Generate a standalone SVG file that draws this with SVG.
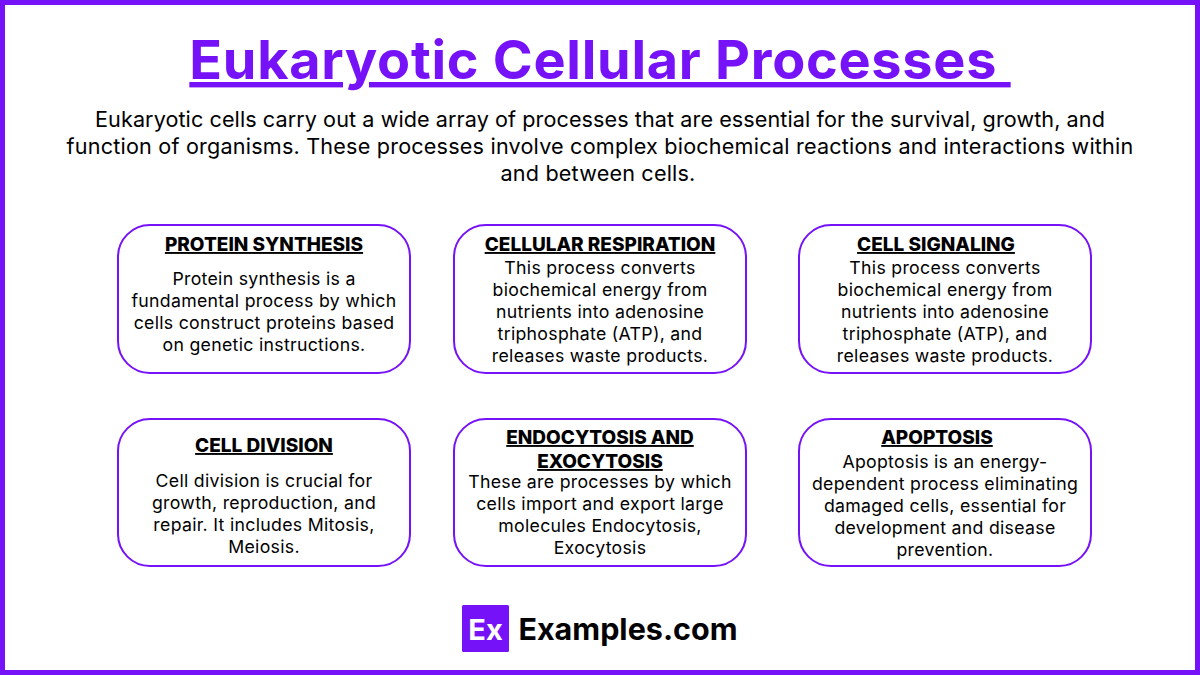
<svg xmlns="http://www.w3.org/2000/svg" width="1200" height="675" viewBox="0 0 1200 675">
<style>
text{font-family:"Inter","Liberation Sans",sans-serif;text-anchor:middle;fill:#000}
.intro{font-size:21.6px;letter-spacing:.18px}
.h{font-size:19px;font-weight:800;text-decoration:underline}
.b{font-size:17.7px;letter-spacing:.3px}
.card{fill:#fff;stroke:#7612f8;stroke-width:2}
</style>
<rect x="2.5" y="2.5" width="1195" height="670" fill="#fff" stroke="#7612f8" stroke-width="5"/>
<g id="title"><text x="600" y="79" xml:space="preserve" style="font-size:54px;font-weight:700;fill:#7612f8;text-decoration:underline;letter-spacing:.72px">Eukaryotic Cellular Processes </text></g>
<g id="intro" class="intro">
<text x="600" y="127" style="letter-spacing:.08px">Eukaryotic cells carry out a wide array of processes that are essential for the survival, growth, and</text>
<text x="600" y="154" style="letter-spacing:.2px">function of organisms. These processes involve complex biochemical reactions and interactions within</text>
<text x="598" y="181">and between cells.</text>
</g>
<g id="node-protein-synthesis"><rect class="card" x="118" y="225" width="292" height="148" rx="32"/>
<text class="h" x="264" y="251">PROTEIN SYNTHESIS</text>
<text class="b" x="264" y="285">Protein synthesis is a</text><text class="b" x="264" y="307">fundamental process by which</text><text class="b" x="264" y="329">cells construct proteins based</text><text class="b" x="264" y="351">on genetic instructions.</text></g>
<g id="node-cellular-respiration"><rect class="card" x="454" y="225" width="292" height="148" rx="32"/>
<text class="h" x="600" y="251">CELLULAR RESPIRATION</text>
<text class="b" x="600" y="274">This process converts</text><text class="b" x="600" y="296">biochemical energy from</text><text class="b" x="600" y="318">nutrients into adenosine</text><text class="b" x="600" y="340">triphosphate (ATP), and</text><text class="b" x="600" y="362">releases waste products.</text></g>
<g id="node-cell-signaling"><rect class="card" x="799" y="225" width="292" height="148" rx="32"/>
<text class="h" x="936" y="251">CELL SIGNALING</text>
<text class="b" x="945" y="274">This process converts</text><text class="b" x="945" y="296">biochemical energy from</text><text class="b" x="945" y="318">nutrients into adenosine</text><text class="b" x="945" y="340">triphosphate (ATP), and</text><text class="b" x="945" y="362">releases waste products.</text></g>
<g id="node-cell-division"><rect class="card" x="118" y="419" width="292" height="147" rx="32"/>
<text class="h" x="264" y="452">CELL DIVISION</text>
<text class="b" x="264" y="487">Cell division is crucial for</text><text class="b" x="264" y="509">growth, reproduction, and</text><text class="b" x="264" y="531">repair. It includes Mitosis,</text><text class="b" x="264" y="553">Meiosis.</text></g>
<g id="node-endocytosis"><rect class="card" x="454" y="419" width="292" height="147" rx="32"/>
<text class="h" x="600" y="444">ENDOCYTOSIS AND</text><text class="h" x="600" y="468">EXOCYTOSIS</text>
<text class="b" x="600" y="488">These are processes by which</text><text class="b" x="600" y="510">cells import and export large</text><text class="b" x="600" y="532">molecules Endocytosis,</text><text class="b" x="600" y="554">Exocytosis</text></g>
<g id="node-apoptosis"><rect class="card" x="799" y="419" width="292" height="147" rx="32"/>
<text class="h" x="937" y="444">APOPTOSIS</text>
<text class="b" x="945" y="468">Apoptosis is an energy-</text><text class="b" x="945" y="490">dependent process eliminating</text><text class="b" x="945" y="512">damaged cells, essential for</text><text class="b" x="945" y="534">development and disease</text><text class="b" x="945" y="556">prevention.</text></g>
<g id="logo"><rect x="462" y="605" width="47" height="47" rx="1.5" fill="#7612f8"/>
<text x="485.5" y="640" style="font-size:29px;font-weight:700;fill:#fff">Ex</text>
<text x="628" y="640" style="font-size:30.5px;font-weight:700">Examples.com</text></g>
</svg>
